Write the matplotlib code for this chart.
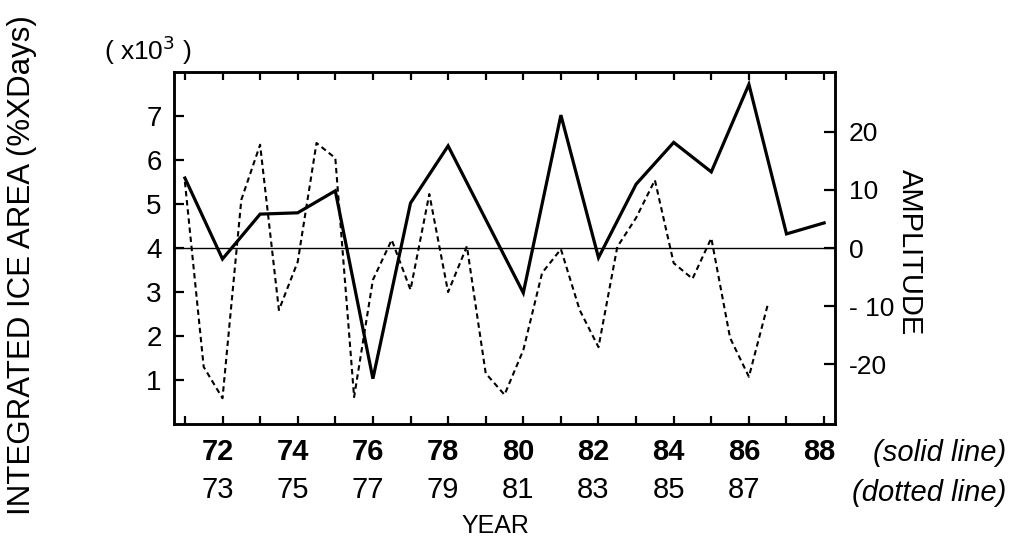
import matplotlib
matplotlib.use("Agg")
import matplotlib.pyplot as plt
from matplotlib import transforms as mtransforms

plt.rcParams['font.family'] = ['Liberation Sans', 'DejaVu Sans']

# Solid line: integrated ice area (x10^3 %XDays), annual
solid_years = [71, 72, 73, 74, 75, 76, 77, 78, 80, 81, 82, 83, 84, 85, 86, 87, 88]
solid_vals = [5.59, 3.75, 4.77, 4.80, 5.30, 1.03, 5.02, 6.32, 2.98, 7.02, 3.78,
              5.45, 6.40, 5.73, 7.72, 4.32, 4.57]

# Dotted line: amplitude, semi-annual, plotted against the dotted-line years
dotted_years = [72.0, 72.5, 73.0, 73.5, 74.0, 74.5, 75.0, 75.5, 76.0, 76.5,
                77.0, 77.5, 78.0, 78.5, 79.0, 79.5, 80.0, 80.5, 81.0, 81.5,
                82.0, 82.5, 83.0, 83.5, 84.0, 84.5, 85.0, 85.5, 86.0, 86.5,
                87.0, 87.5]
dotted_vals = [11.4, -20.5, -25.9, 8.3, 17.8, -10.7, -2.4, 18.1, 15.5, -25.7,
               -5.5, 1.4, -7.2, 9.3, -7.6, 0.3, -21.6, -25.3, -17.6, -4.3,
               -0.2, -10.7, -17.1, 0.2, 5.2, 11.7, -2.6, -5.3, 1.7, -15.5,
               -22.2, -9.8]
dotted_offset = 1  # dotted-line year = solid-line year + 1

solid_labels = ['72', '74', '76', '78', '80', '82', '84', '86', '88']
dotted_labels = ['73', '75', '77', '79', '81', '83', '85', '87']
left_ticks = [1, 2, 3, 4, 5, 6, 7]
right_ticks = [20, 10, 0, -10, -20]
right_ticklabels = ['20', '10', '0', '- 10', '-20']

fig = plt.figure(figsize=(10.14, 5.47), dpi=100)
ax = fig.add_axes([174/1014, 1-424/547, (835-174)/1014, (424-72)/547])
ax2 = ax.twinx()

ax.set_xlim(70.71, 88.29)
ax.set_ylim(0, 8)
ax2.set_ylim(-30.34, 30.34)

ax.plot(solid_years, solid_vals, color='black', lw=2.3, solid_joinstyle='miter', zorder=3)
ax2.plot([y - dotted_offset for y in dotted_years], dotted_vals, color='black',
         lw=1.5, dashes=(2.6, 1.8), zorder=3)
ax.axhline(4, color='black', lw=1.0, zorder=2)

for a in (ax, ax2):
    for s in a.spines.values():
        s.set_linewidth(1.8)

ax.set_xticks(list(range(71, 89)))
ax.set_xticklabels([])
ax.tick_params(axis='x', which='both', direction='in', length=6, width=1.6,
               top=True, bottom=True)
ax.set_yticks(left_ticks)
ax.set_yticklabels([str(t) for t in left_ticks], fontsize=20)
ax.tick_params(axis='y', direction='in', length=7, width=1.6, pad=9)
ax2.set_yticks(right_ticks)
ax2.set_yticklabels(right_ticklabels, fontsize=19)
ax2.tick_params(axis='y', direction='in', length=8, width=1.6, pad=10)

# year labels in two rows under the axis
trans = mtransforms.offset_copy(ax.get_xaxis_transform(), fig=fig, x=-5, y=0, units='dots')
for lab in solid_labels:
    ax.text(int(lab), -0.08, lab, transform=trans, ha='center', va='center',
            fontsize=21, fontweight='bold')
for lab in dotted_labels:
    ax.text(int(lab) - dotted_offset, -0.188, lab, transform=trans, ha='center',
            va='center', fontsize=21)

fig.text(1006/1014, 1-453/547, '(solid line)', ha='right', va='center',
         fontsize=21, style='italic')
fig.text(1006/1014, 1-493/547, '(dotted line)', ha='right', va='center',
         fontsize=21, style='italic')
fig.text(495/1014, 1-526/547, 'YEAR', ha='center', va='center', fontsize=18)
fig.text(148/1014, 1-50/547, '( x10$^3$ )', ha='center', va='center', fontsize=19)
fig.text(22/1014, 1-265/547, 'INTEGRATED ICE AREA (%XDays)', rotation=90,
         ha='center', va='center', fontsize=22.5)
fig.text(910/1014, 1-252/547, 'AMPLITUDE', rotation=-90, ha='center',
         va='center', fontsize=21)

fig.savefig('out.png', dpi=100)
